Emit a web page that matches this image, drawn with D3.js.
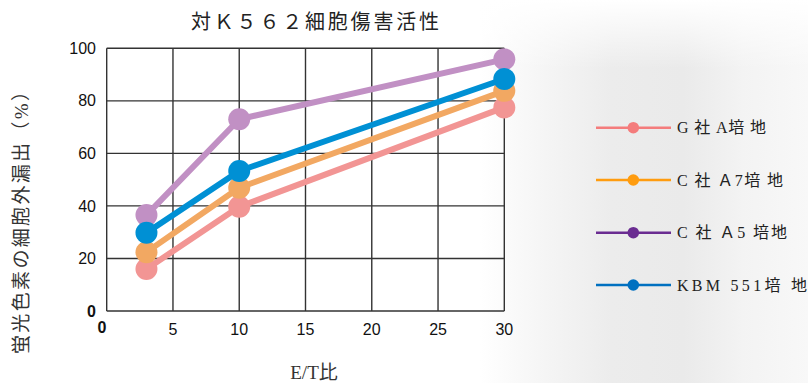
<!DOCTYPE html>
<html>
<head>
<meta charset="utf-8">
<script src="https://cdn.jsdelivr.net/npm/d3@7.9.0/dist/d3.min.js"></script>
<style>
  body { margin: 0; background: #fff; }
  svg { display: block; }
</style>
</head>
<body>
<svg id="chart" width="808" height="383"></svg>
<script>
// E/T ratio on the x axis
const etRatios = [3, 10, 30];
const xTicks = [0, 5, 10, 15, 20, 25, 30];
const yTicks = [0, 20, 40, 60, 80, 100];

const seriesNames = ['G 社 A培 地', 'C 社 Ａ7培 地', 'C 社 Ａ5 培地', 'KBM 551培 地'];
const gValues = [16, 39.7, 77.5];
const c7Values = [22.4, 46.9, 83.8];
const c5Values = [36.5, 73, 95.8];
const kbmValues = [29.8, 53.3, 88.3];

const plotColors = ['#f29594', '#f2a862', '#c190c4', '#0090d4'];
const legendColors = ['#f47c7c', '#ff9c0f', '#6a2c91', '#0070c0'];

const series = [gValues, c7Values, c5Values, kbmValues].map((vals, i) => ({
    name: seriesNames[i],
    plotColor: plotColors[i],
    legendColor: legendColors[i],
    points: vals.map((v, j) => ({ x: etRatios[j], y: v }))
}));

const svg = d3.select('#chart');
const serif = '"Liberation Serif", "DejaVu Serif", "Noto Sans CJK JP", serif';
const sans = 'Arial, "Liberation Sans", sans-serif';

// grey shading on the right side
const defs = svg.append('defs');
const grad = defs.append('linearGradient').attr('id', 'bg').attr('x1', 0).attr('x2', 1).attr('y1', 0).attr('y2', 0);
grad.append('stop').attr('offset', '0%').attr('stop-color', '#ffffff');
grad.append('stop').attr('offset', '22%').attr('stop-color', '#f4f4f4');
grad.append('stop').attr('offset', '40%').attr('stop-color', '#ececec');
grad.append('stop').attr('offset', '62%').attr('stop-color', '#eaeaea');
grad.append('stop').attr('offset', '80%').attr('stop-color', '#f3f3f3');
grad.append('stop').attr('offset', '100%').attr('stop-color', '#f8f8f8');
const vgrad = defs.append('linearGradient').attr('id', 'fade').attr('x1', 0).attr('x2', 0).attr('y1', 0).attr('y2', 1);
vgrad.append('stop').attr('offset', '0%').attr('stop-color', '#fff').attr('stop-opacity', 1);
vgrad.append('stop').attr('offset', '18%').attr('stop-color', '#fff').attr('stop-opacity', 0);
svg.append('rect').attr('x', 480).attr('y', 0).attr('width', 328).attr('height', 383).attr('fill', 'url(#bg)');
svg.append('rect').attr('x', 480).attr('y', 0).attr('width', 328).attr('height', 383).attr('fill', 'url(#fade)');

const x = d3.scaleLinear().domain([0, 30]).range([106.7, 504.3]);
const y = d3.scaleLinear().domain([0, 100]).range([311, 48.3]);

const grid = svg.append('g');
grid.selectAll('line.v').data(xTicks).enter().append('line')
    .attr('x1', d => x(d)).attr('x2', d => x(d))
    .attr('y1', y(0)).attr('y2', y(100))
    .attr('stroke', '#333').attr('stroke-width', 1.4);
grid.selectAll('line.h').data(yTicks).enter().append('line')
    .attr('x1', x(0)).attr('x2', x(30))
    .attr('y1', d => y(d)).attr('y2', d => y(d))
    .attr('stroke', '#333').attr('stroke-width', 1.4);

// tick labels
svg.append('g').selectAll('text').data(yTicks).enter().append('text')
    .attr('x', 96).attr('y', d => y(d)).attr('dy', '0.35em')
    .attr('text-anchor', 'end')
    .attr('font-family', sans).attr('font-size', 16)
    .attr('font-weight', d => d === 0 ? 'bold' : 'normal')
    .attr('fill', '#111')
    .text(d => d);
svg.append('g').selectAll('text').data(xTicks).enter().append('text')
    .attr('x', d => d === 0 ? 102 : x(d)).attr('y', d => d === 0 ? 327 : 329).attr('dy', '0.35em')
    .attr('text-anchor', 'middle')
    .attr('font-family', sans).attr('font-size', 16)
    .attr('font-weight', d => d === 0 ? 'bold' : 'normal')
    .attr('fill', '#111')
    .text(d => d);

// lines and markers
const line = d3.line().x(d => x(d.x)).y(d => y(d.y));
const drawOrder = [2, 0, 1, 3];
drawOrder.forEach(i => {
    const s = series[i];
    const g = svg.append('g');
    g.append('path').datum(s.points)
        .attr('d', line)
        .attr('fill', 'none')
        .attr('stroke', s.plotColor)
        .attr('stroke-width', 6)
        .attr('stroke-linejoin', 'round');
    g.selectAll('circle').data(s.points).enter().append('circle')
        .attr('cx', d => x(d.x)).attr('cy', d => y(d.y))
        .attr('r', 11)
        .attr('fill', s.plotColor);
});

// title and axis labels
svg.append('text')
    .attr('x', 315).attr('y', 29)
    .attr('text-anchor', 'middle')
    .attr('font-family', serif).attr('font-size', 20)
    .attr('textLength', 248).attr('lengthAdjust', 'spacing')
    .attr('fill', '#222')
    .text('対Ｋ５６２細胞傷害活性');

svg.append('text')
    .attr('transform', 'translate(21,218) rotate(-90)')
    .attr('text-anchor', 'middle').attr('dy', '0.35em')
    .attr('font-family', serif).attr('font-size', 19)
    .attr('textLength', 272).attr('lengthAdjust', 'spacing')
    .attr('fill', '#333')
    .text('蛍光色素の細胞外漏出（%）');

svg.append('text')
    .attr('x', 314).attr('y', 372).attr('dy', '0.35em')
    .attr('text-anchor', 'middle')
    .attr('font-family', serif).attr('font-size', 19)
    .attr('fill', '#333')
    .text('E/T比');

// legend
const legendY = [127.7, 180, 232.7, 285];
const legendWidths = [89, 106, 110, 130];
const legend = svg.append('g');
series.forEach((s, i) => {
    const g = legend.append('g').attr('transform', `translate(0,${legendY[i]})`);
    g.append('line').attr('x1', 596).attr('x2', 671).attr('y1', 0).attr('y2', 0)
        .attr('stroke', s.legendColor).attr('stroke-width', 2.5);
    g.append('circle').attr('cx', 633.3).attr('cy', 0).attr('r', 5.8).attr('fill', s.legendColor);
    g.append('text').attr('x', 677).attr('y', 0).attr('dy', '0.35em')
        .attr('font-family', serif).attr('font-size', 16)
        .attr('textLength', legendWidths[i]).attr('lengthAdjust', 'spacing')
        .attr('fill', '#222')
        .text(s.name);
});
</script>
</body>
</html>
